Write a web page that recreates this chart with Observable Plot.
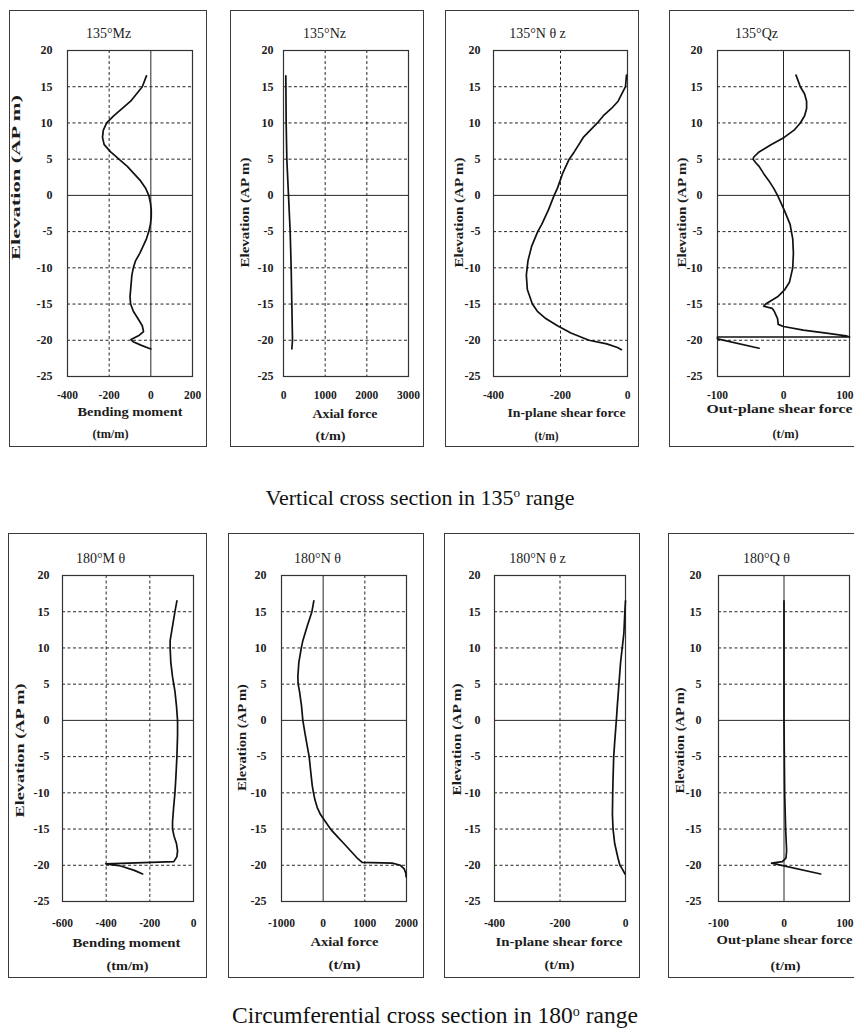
<!DOCTYPE html>
<html>
<head>
<meta charset="utf-8">
<script src="https://cdn.jsdelivr.net/npm/d3@7"></script>
<script src="https://cdn.jsdelivr.net/npm/@observablehq/plot@0.6"></script>
<style>
html, body { margin: 0; padding: 0; background: #fff; overflow: hidden; }
#root { position: relative; width: 854px; height: 1030px; overflow: hidden; background: #fff; }
.caption { position: absolute; width: 854px; text-align: center; white-space: nowrap;
  font-family: "Liberation Serif", "Times New Roman", serif; line-height: 1; color: #111; }
.caption .deg { font-size: 0.6em; position: relative; top: -0.55em; }
</style>
</head>
<body>
<div id="root"></div>
<script>
// ---------------- data ----------------
const yTickValues = [20, 15, 10, 5, 0, -5, -10, -15, -20, -25];
const yDashedGrid = [15, 10, 5, -5, -10, -15, -20];

// 135° Mz : bending moment (tm/m)
const mz135Elev = [16.5, 15, 13, 11, 10, 9, 8, 7, 6, 5, 4, 3, 2, 1, 0, -1, -2, -3, -4, -5, -6, -7, -8, -9, -10, -11, -12, -13, -14, -15, -16, -17, -18, -18.8, -19.3, -19.9, -20.2, -20.7, -21.2];
const mz135Val  = [-21, -41, -97, -177, -212, -228, -232, -224, -193, -153, -113, -81, -49, -25, -10, -2, 2, 2, -2, -10, -21, -37, -53, -73, -84, -91, -94, -97, -100, -97, -84, -62, -41, -35, -55, -95, -85, -45, 0];
const mz135Ticks = [-400, -200, 0, 200];

// 135° Nz : axial force (t/m)
const nz135Elev = [16.5, 10, 5, 0, -5, -10, -15, -20, -21.2];
const nz135Val  = [56, 64, 80, 120, 160, 184, 200, 216, 200];
const nz135Ticks = [0, 1000, 2000, 3000];

// 135° Nθz : in-plane shear force (t/m)
const nqz135Elev = [16.6, 15, 13, 12, 11, 10, 8, 6, 5, 3, 1, 0, -2, -4, -5, -7, -9, -11, -13, -15, -16, -17, -18, -19, -20, -20.5, -21, -21.3];
const nqz135Val  = [-3, -6, -28, -48, -72, -90, -132, -159, -174, -194, -209, -219, -236, -256, -268, -286, -297, -302, -299, -284, -269, -244, -209, -169, -115, -62, -30, -18];
const nqz135Ticks = [-400, -200, 0];

// 135° Qz : out-plane shear force (t/m)
const qz135Elev = [16.6, 15, 14, 13, 12, 11, 10, 9, 8, 7, 6, 5.3, 5, 4.5, 4, 3, 2, 1, 0, -2, -4, -6, -8, -10, -12, -13, -14, -15, -15.3, -15.6, -16, -17, -17.8, -18.1, -18.6, -19.0, -19.4, -19.55, -19.55, -19.8, -21.1];
const qz135Val  = [19, 25.5, 32, 35, 35, 32, 25.5, 16, 1, -19, -37, -45, -46, -42, -37, -30, -22, -15, -9, 1, 10, 14, 15, 14, 9, 2, -9, -27, -30, -17, -14, -9, -8, 0, 30, 65, 95, 100, -100, -100, -37];
const qz135Ticks = [-100, 0, 100];

// 180° Mθ : bending moment (tm/m)
const mt180Elev = [16.5, 15, 13, 11, 10, 8, 6, 4, 2, 0, -2, -5, -8, -10, -12, -14, -15, -16, -17, -18, -18.8, -19.5, -19.8, -20.1, -20.7, -21.2];
const mt180Val  = [-76, -85, -96, -107, -107, -104, -96, -85, -78, -73, -73, -76, -81, -85, -91, -96, -96, -89, -78, -73, -76, -90, -402, -333, -271, -233];
const mt180Ticks = [-600, -400, -200, 0];

// 180° Nθ : axial force (t/m)
const nt180Elev = [16.5, 15, 13, 11, 10, 8, 6, 5, 4, 2, 0, -2, -4, -5, -7, -9, -10, -11, -12, -13, -14, -15, -16, -17, -18, -19, -19.6, -19.7, -20.0, -20.5, -21.1, -21.6];
const nt180Val  = [-224, -270, -384, -488, -524, -584, -608, -600, -568, -520, -488, -430, -368, -336, -300, -262, -232, -196, -144, -64, 56, 176, 336, 496, 656, 816, 936, 1656, 1856, 1944, 1984, 1992];
const nt180Ticks = [-1000, 0, 1000, 2000];

// 180° Nθz : in-plane shear force (t/m)
const ntz180Elev = [16.5, 15, 12, 10, 8, 5, 2, 0, -3, -5, -8, -10, -13, -15, -17, -19, -20, -20.5, -21, -21.2];
const ntz180Val  = [0, -2, -5, -10, -15, -20, -25, -28, -33, -36, -38, -39, -40, -38, -33, -23, -17, -10, -4, -2];
const ntz180Ticks = [-400, -200, 0];

// 180° Qθ : out-plane shear force (t/m)
const qt180Elev = [16.5, 10, 0, -10, -15, -17, -18, -19, -19.5, -19.7, -21.2];
const qt180Val  = [0, 0, 0, 1, 2.5, 3.5, 4, 3, -2.5, -19, 56];
const qt180Ticks = [-100, 0, 100];

const titles = ["135°Mz", "135°Nz", "135°N θ z", "135°Qz", "180°M θ", "180°N θ", "180°N θ z", "180°Q θ"];
const xLabels = ["Bending moment", "Axial force", "In-plane shear force", "Out-plane shear force",
                 "Bending moment", "Axial force", "In-plane shear force", "Out-plane shear force"];
const units = ["(tm/m)", "(t/m)", "(t/m)", "(t/m)", "(tm/m)", "(t/m)", "(t/m)", "(t/m)"];
const yLabel = "Elevation (AP m)";
const captionTop = "Vertical cross section in 135";
const captionBottom = "Circumferential cross section in 180";

// ---------------- layout ----------------
const rows = [
  {top: 10, bottom: 447, plotT: 50, plotB: 376, xPad: 14},
  {top: 533, bottom: 978, plotT: 575, plotB: 901, xPad: 17}
];

const panels = [
  {row: 0, left: 9, right: 207, plotL: 67, plotR: 192, domain: [-400, 200], ticks: mz135Ticks, dashed: [-200], solid: [0],
   elev: mz135Elev, val: mz135Val, yPad: 15, title: [108, 33], ylab: [15, 177, 165], xlab: [129.5, 411, 105], unit: [110, 433, 36]},
  {row: 0, left: 230, right: 424, plotL: 283, plotR: 408, domain: [0, 3000], ticks: nz135Ticks, dashed: [1000, 2000], solid: [],
   elev: nz135Elev, val: nz135Val, yPad: 10, title: [324, 33], ylab: [244, 212, 110], xlab: [344.5, 413, 65], unit: [330, 435, 30]},
  {row: 0, left: 445, right: 639, plotL: 493, plotR: 627, domain: [-400, 0], ticks: nqz135Ticks, dashed: [-200], solid: [],
   elev: nqz135Elev, val: nqz135Val, yPad: 13, title: [537, 33], ylab: [458, 212, 110], xlab: [566, 412, 118], unit: [546, 435, 24]},
  {row: 0, left: 669, right: 862, plotL: 717, plotR: 849, domain: [-100, 100], ticks: qz135Ticks, dashed: [], solid: [0], edgeTick: true,
   elev: qz135Elev, val: qz135Val, yPad: 15, title: [756, 33], ylab: [681, 212, 110], xlab: [779, 408, 146], unit: [785, 433, 26]},
  {row: 1, left: 8, right: 207, plotL: 62, plotR: 193, domain: [-600, 0], ticks: mt180Ticks, dashed: [-400, -200], solid: [],
   elev: mt180Elev, val: mt180Val, yPad: 13, title: [100, 558], ylab: [19, 750, 134], xlab: [126, 942, 108], unit: [127, 965, 42]},
  {row: 1, left: 228, right: 424, plotL: 281, plotR: 406, domain: [-1000, 2000], ticks: nt180Ticks, dashed: [1000], solid: [0],
   elev: nt180Elev, val: nt180Val, yPad: 15, title: [317, 558], ylab: [241, 737, 107], xlab: [344, 941, 68], unit: [344, 964, 32]},
  {row: 1, left: 444, right: 640, plotL: 494, plotR: 625, domain: [-400, 0], ticks: ntz180Ticks, dashed: [-200], solid: [],
   elev: ntz180Elev, val: ntz180Val, yPad: 14, title: [537, 558], ylab: [456, 739, 112], xlab: [558.5, 941, 127], unit: [559, 964, 30]},
  {row: 1, left: 668, right: 862, plotL: 718, plotR: 849, domain: [-100, 100], ticks: qt180Ticks, dashed: [], solid: [0], edgeTick: true,
   elev: qt180Elev, val: qt180Val, yPad: 17, title: [766, 558], ylab: [679, 740, 106], xlab: [784, 939, 136], unit: [785, 965, 30]}
];

const FONT = "'Liberation Serif', 'Times New Roman', serif";
const INK = "#1c1c1c";
const root = document.getElementById("root");

panels.forEach((p, i) => {
  const row = rows[p.row];
  const W = p.right - p.left, H = row.bottom - row.top;
  const mL = p.plotL - p.left, mR = p.right - p.plotR;
  const mT = row.plotT - row.top, mB = row.bottom - row.plotB;
  const pts = p.elev.map((e, k) => ({elev: e, val: p.val[k]}));
  const at = (ax, ay) => ({frameAnchor: "top-left", dx: ax - p.plotL, dy: ay - row.plotT});
  const gridStyle = {stroke: "#262626", strokeOpacity: 1, strokeWidth: 1, strokeDasharray: "3,2.5"};
  // the last tick of a panel cut by the page edge is drawn right-aligned so it stays visible
  const inner = p.edgeTick ? p.ticks.slice(0, -1) : p.ticks;
  const edge = p.edgeTick ? p.ticks.slice(-1) : [];
  const tickText = {fontSize: 11.5, fontWeight: "bold", fill: INK};

  const svg = Plot.plot({
    width: W, height: H,
    marginLeft: mL, marginRight: mR, marginTop: mT, marginBottom: mB,
    x: {domain: p.domain},
    y: {domain: [-25, 20]},
    marks: [
      Plot.gridY(yDashedGrid, gridStyle),
      p.dashed.length ? Plot.gridX(p.dashed, gridStyle) : null,
      Plot.ruleY([0], {stroke: "#262626", strokeWidth: 1}),
      p.solid.length ? Plot.ruleX(p.solid, {stroke: "#262626", strokeWidth: 1}) : null,
      Plot.frame({stroke: "#333", strokeWidth: 1.2}),
      Plot.line(pts, {x: "val", y: "elev", stroke: "#111", strokeWidth: 1.7}),
      Plot.axisY(yTickValues, {tickSize: 0, tickPadding: p.yPad, tickFormat: d => String(d), label: null,
        ...tickText, fontSize: 12}),
      Plot.axisX(inner, {tickSize: 0, tickPadding: row.xPad, tickFormat: d => String(d), label: null, ...tickText}),
      edge.length ? Plot.text(edge, {x: d => d, text: d => String(d), frameAnchor: "bottom", lineAnchor: "top",
        dy: row.xPad, dx: 4, textAnchor: "end", ...tickText}) : null,
      Plot.text([titles[i]], {text: d => d, ...at(p.title[0], p.title[1]), fontSize: 14,
        textAnchor: "middle", lineAnchor: "middle", fill: INK}),
      Plot.text([yLabel], {text: d => d, ...at(p.ylab[0], p.ylab[1]), rotate: -90, fontSize: 12.5, fontWeight: "bold",
        textAnchor: "middle", lineAnchor: "middle", fill: INK}),
      Plot.text([xLabels[i]], {text: d => d, ...at(p.xlab[0], p.xlab[1]), fontSize: 12.5, fontWeight: "bold",
        textAnchor: "middle", lineAnchor: "middle", fill: INK}),
      Plot.text([units[i]], {text: d => d, ...at(p.unit[0], p.unit[1]), fontSize: 12.5, fontWeight: "bold",
        textAnchor: "middle", lineAnchor: "middle", fill: INK})
    ]
  });

  // stretch labels to the widths seen in the scan
  const lengths = {[yLabel]: p.ylab[2], [xLabels[i]]: p.xlab[2], [units[i]]: p.unit[2]};
  d3.select(svg).selectAll("text").each(function () {
    const len = lengths[this.textContent];
    if (len) {
      this.setAttribute("textLength", len);
      this.setAttribute("lengthAdjust", "spacingAndGlyphs");
    }
  });

  svg.style.position = "absolute";
  svg.style.left = p.left + "px";
  svg.style.top = row.top + "px";
  svg.style.maxWidth = "none";
  svg.style.overflow = "visible";
  svg.style.fontFamily = FONT;
  svg.style.background = "#fff";
  svg.style.outline = "1.5px solid #3a3a3a";
  svg.style.outlineOffset = "-1.5px";
  root.appendChild(svg);
});

// captions
function addCaption(text, centerX, baseline, size) {
  const div = document.createElement("div");
  div.className = "caption";
  div.style.left = (centerX - 427) + "px";
  div.style.top = (baseline - 0.8375 * size) + "px";
  div.style.fontSize = size + "px";
  div.innerHTML = text + '<span class="deg">o</span> range';
  root.appendChild(div);
}
addCaption(captionTop, 420, 505, 22);
addCaption(captionBottom, 435, 1024, 23.5);
</script>
</body>
</html>
